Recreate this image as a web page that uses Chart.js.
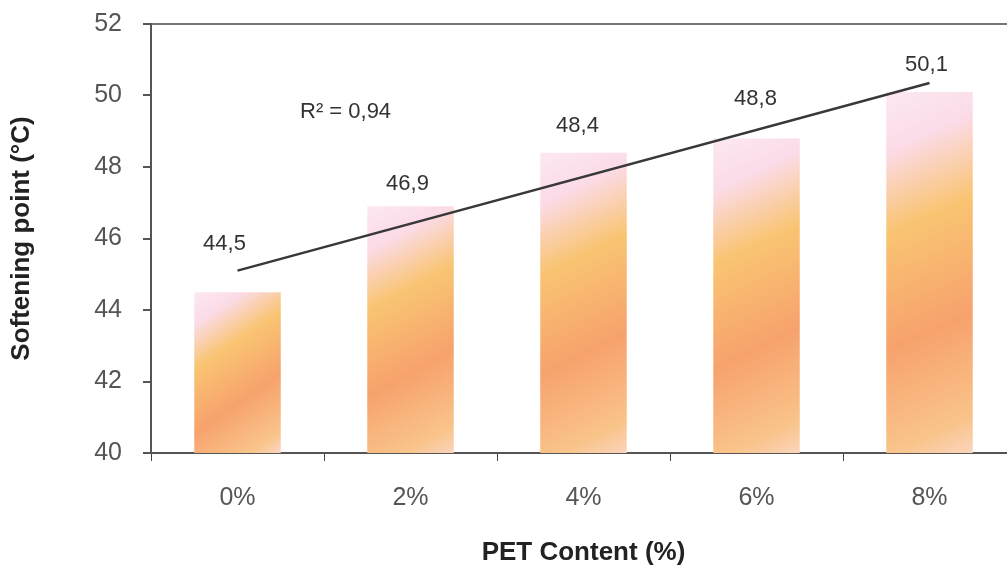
<!DOCTYPE html>
<html>
<head>
<meta charset="utf-8">
<script src="https://cdn.jsdelivr.net/npm/chart.js@4.4.1/dist/chart.umd.min.js"></script>
<style>
  html, body { margin: 0; padding: 0; background: #fff; overflow: hidden; }
  #wrap { width: 1007px; height: 568px; overflow: hidden; }
</style>
</head>
<body>
<div id="wrap"><canvas id="grafico" width="1020" height="568"></canvas></div>
<script>
// dados
const categorias = ['0%', '2%', '4%', '6%', '8%'];
const pontoAmolecimento = [44.5, 46.9, 48.4, 48.8, 50.1];
const rotulos = ['44,5', '46,9', '48,4', '48,8', '50,1'];
const tendenciaX = ['0%', '8%'];
const tendenciaY = [45.1, 50.35];
const textoR2 = 'R² = 0,94';
const eixoY = { min: 40, max: 52, passo: 2 };

const fonte = '"Liberation Sans", Arial, sans-serif';

function gradienteBarra(c) {
    const chart = c.chart;
    const area = chart.chartArea;
    if (!area || c.raw == null) return '#f8ad6c';
    const sx = chart.scales.x, sy = chart.scales.y;
    const larg = (area.right - area.left) / categorias.length * 0.5;
    const esq = sx.getPixelForValue(c.dataIndex) - larg / 2;
    const topo = sy.getPixelForValue(c.raw);
    const base = sy.getPixelForValue(eixoY.min);
    const dx = larg * 0.8 + (base - topo) * 0.25;
    const g = chart.ctx.createLinearGradient(esq, topo, esq + dx, base);
    g.addColorStop(0, '#fce8f2');
    g.addColorStop(0.14, '#fbdbe8');
    g.addColorStop(0.33, '#f9c472');
    g.addColorStop(0.6, '#f7a26d');
    g.addColorStop(0.84, '#f9c48a');
    g.addColorStop(1, '#fce3ea');
    return g;
}

// rotulos em cima das barras e o texto do R2
const rotulosPlugin = {
    id: 'rotulos',
    afterDatasetsDraw(chart) {
        const ctx = chart.ctx;
        const meta = chart.getDatasetMeta(0);
        const subida = [48, 22, 27, 39, 27];
        const desvio = [-13, -3, -6, -1, -3];
        ctx.save();
        ctx.font = '22px ' + fonte;
        ctx.fillStyle = '#333';
        ctx.textAlign = 'center';
        ctx.textBaseline = 'middle';
        meta.data.forEach(function(barra, i) {
            ctx.fillText(rotulos[i], barra.x + desvio[i], barra.y - subida[i]);
        });
        ctx.textAlign = 'left';
        ctx.fillText(textoR2, 300, 112);
        ctx.restore();
    }
};

new Chart(document.getElementById('grafico'), {
    data: {
        labels: categorias,
        datasets: [{
            type: 'bar',
            label: 'Softening point',
            data: pontoAmolecimento,
            backgroundColor: gradienteBarra,
            borderWidth: 0,
            categoryPercentage: 1,
            barPercentage: 0.5,
            order: 2
        }, {
            type: 'line',
            label: 'Tendencia',
            data: tendenciaX.map(function(x, i) { return { x: x, y: tendenciaY[i] }; }),
            borderColor: '#383838',
            borderWidth: 2.4,
            pointRadius: 0,
            fill: false,
            order: 1
        }]
    },
    options: {
        responsive: false,
        animation: false,
        layout: { padding: { top: 24, right: 4, left: 6, bottom: 0 } },
        plugins: {
            legend: { display: false },
            tooltip: { enabled: false }
        },
        scales: {
            x: {
                offset: true,
                grid: {
                    offset: true,
                    color: 'transparent',
                    tickColor: '#444',
                    tickLength: 8,
                    drawOnChartArea: false
                },
                border: { color: '#555', width: 2 },
                ticks: {
                    color: '#555',
                    font: { family: fonte, size: 25 },
                    padding: 22
                },
                title: {
                    display: true,
                    text: 'PET Content (%)',
                    color: '#222',
                    font: { family: fonte, size: 26, weight: 'bold' },
                    padding: { top: 0, bottom: 0 }
                },
                afterFit: function(s) {
                    s.height = 568 - 453;
                    s.paddingLeft = 0;
                    s.paddingRight = 0;
                }
            },
            y: {
                min: eixoY.min,
                max: eixoY.max,
                grid: {
                    color: function(c) { return c.tick && c.tick.value === eixoY.max ? '#777' : 'transparent'; },
                    lineWidth: 2,
                    tickColor: '#555',
                    tickLength: 8
                },
                border: { color: '#555', width: 2 },
                ticks: {
                    stepSize: eixoY.passo,
                    color: '#555',
                    font: { family: fonte, size: 25 },
                    padding: 21
                },
                title: {
                    display: true,
                    text: 'Softening point (°C)',
                    color: '#222',
                    font: { family: fonte, size: 26, weight: 'bold' },
                    padding: { top: 0, bottom: 0 }
                },
                afterFit: function(s) {
                    s.width = 151 - 6;
                    s.paddingTop = 0;
                    s.paddingBottom = 0;
                }
            }
        }
    },
    plugins: [rotulosPlugin]
});
</script>
</body>
</html>
